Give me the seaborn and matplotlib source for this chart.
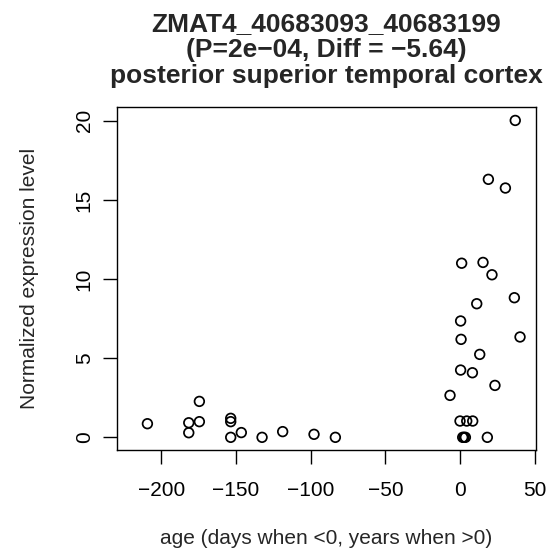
import matplotlib
matplotlib.use("Agg")
import matplotlib.pyplot as plt
import pandas as pd
import seaborn as sns

# ages (days when <0, years when >0) and expression values
age = [-209.4, -181.7, -181.7, -174.6, -174.6, -153.6, -153.6, -153.6, -146.5,
       -132.6, -118.8, -97.8, -83.5,
       37.0, 19.0, 30.4, 1.1, 15.4, 21.4, 36.4, 11.2, 0.4, 0.7, 40.2, 13.2,
       0.4, 8.3, 23.4, -6.7, 0.0, 4.5, 8.5, 1.8, 2.7, 3.6, 18.3]
expr = [0.86, 0.92, 0.29, 2.27, 0.99, 1.20, 0.99, 0.0, 0.30,
        0.0, 0.36, 0.19, 0.0,
        20.02, 16.3, 15.75, 11.0, 11.05, 10.27, 8.82, 8.44, 7.35, 6.19, 6.34, 5.24,
        4.25, 4.08, 3.28, 2.65, 1.03, 1.03, 1.03, 0.0, 0.0, 0.0, 0.0]

x_ticks = [-200, -150, -100, -50, 0, 50]
y_ticks = [0, 5, 10, 15, 20]

df = pd.DataFrame({"age": age, "expr": expr})

sns.set_style("white")
plt.rcParams["font.family"] = ["Liberation Sans", "DejaVu Sans"]

fig = plt.figure(figsize=(5.47, 5.52), dpi=100)
ax = fig.add_axes([0.2130, 0.1848, 0.7669, 0.6208])

sns.scatterplot(data=df, x="age", y="expr", ax=ax, marker="o", s=48,
                facecolor="none", edgecolor="black", linewidth=1.25)

ax.set_xlim(-230.1, 50.9)
ax.set_ylim(-0.80, 20.85)
ax.set_xticks(x_ticks)
ax.set_xticklabels([str(t).replace("-", "\u2212") for t in x_ticks])
ax.set_yticks(y_ticks)
ax.set_yticklabels([str(t) for t in y_ticks], rotation=90, va="center")

for s in ax.spines.values():
    s.set_color("black")
    s.set_linewidth(1.0)
ax.tick_params(axis="both", direction="out", length=10, width=1.0,
               color="black", labelsize=15, labelcolor="black",
               bottom=True, left=True)
ax.tick_params(axis="x", pad=12.5)
ax.tick_params(axis="y", pad=6.4)

ax.set_xlabel("age (days when <0, years when >0)", fontsize=15, va="center")
ax.xaxis.set_label_coords(0.5, -0.2595)
ax.set_ylabel("Normalized expression level", fontsize=15, va="center")
ax.yaxis.set_label_coords(-0.2068, 0.5)
ax.set_title("ZMAT4_40683093_40683199\n(P=2e\u221204, Diff = \u22125.64)\n"
             "posterior superior temporal cortex",
             fontsize=19, fontweight="bold", linespacing=1.1, pad=17.3)

fig.savefig("out.png", dpi=100)
